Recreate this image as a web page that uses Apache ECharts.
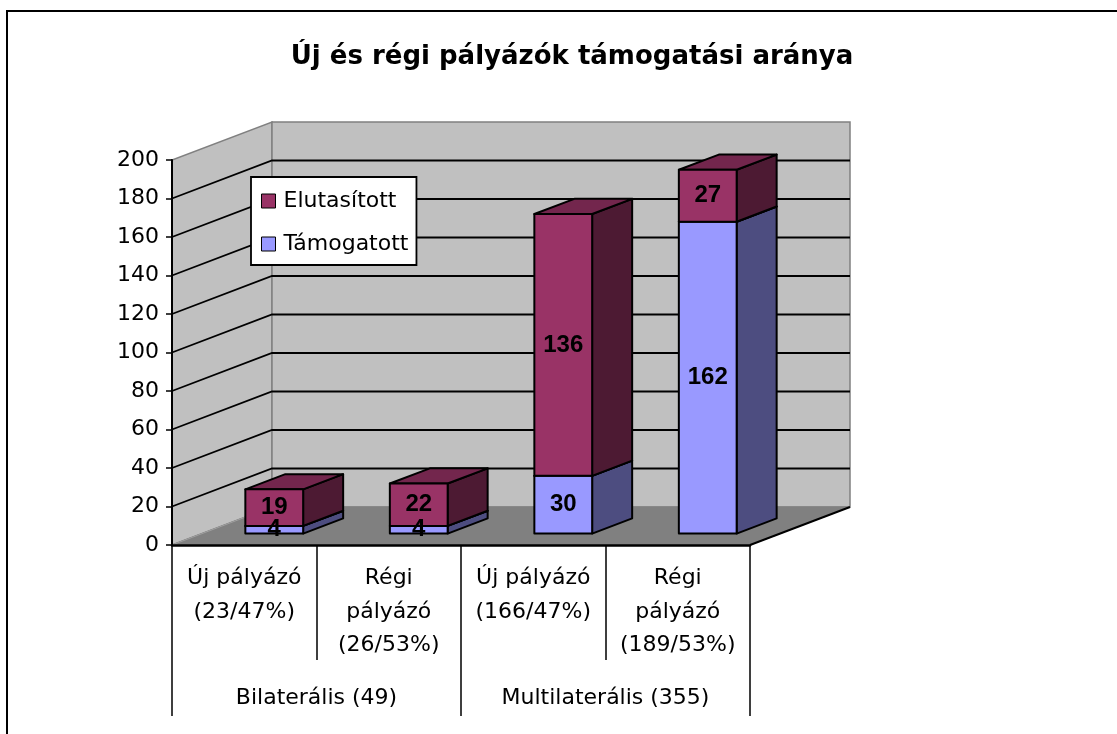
<!DOCTYPE html>
<html><head><meta charset="utf-8">
<script src="https://cdn.jsdelivr.net/npm/echarts@6/dist/echarts.min.js"></script>
<style>html,body{margin:0;padding:0;background:#fff}#c{width:1117px;height:734px}</style>
</head><body><div id="c"></div>
<script>
// ---- data ----
const categories = ['Új pályázó\n(23/47%)', 'Régi\npályázó\n(26/53%)', 'Új pályázó\n(166/47%)', 'Régi\npályázó\n(189/53%)'];
const groups = ['Bilaterális (49)', 'Multilaterális (355)'];
const supported = [4, 4, 30, 162];     // Támogatott
const rejected = [19, 22, 136, 27];    // Elutasított
const yTicks = [0, 20, 40, 60, 80, 100, 120, 140, 160, 180, 200];
const titleText = 'Új és régi pályázók támogatási aránya';

// ---- 3D look ----
const DX = 100, DY = -38;          // depth of the plot box
const ZF = 0.3, ZB = 0.7;          // bar front/back depth fraction
const HALF = 0.2;                  // bar half width (fraction of band)
const REG = 'DejaVu Sans';
const zeros = categories.map(() => 0);

function barRender(front, side, top, baseArr) {
  return function (params, api) {
    const i = api.value(0), v = api.value(1);
    const base = baseArr[i];
    const p0 = api.coord([i, base]);
    const p1 = api.coord([i, base + v]);
    const hw = api.size([1, 0])[0] * HALF;
    const cx = p0[0] + DX * ZF;
    const x0 = cx - hw, x1 = cx + hw;
    const yb = p0[1] + DY * ZF, yt = p1[1] + DY * ZF;
    const ddx = DX * (ZB - ZF), ddy = DY * (ZB - ZF);
    const st = { stroke: '#000', lineWidth: 2, lineJoin: 'round' };
    return {
      type: 'group',
      children: [
        { type: 'polygon', shape: { points: [[x1, yb], [x1 + ddx, yb + ddy], [x1 + ddx, yt + ddy], [x1, yt]] }, style: Object.assign({ fill: side }, st) },
        { type: 'polygon', shape: { points: [[x0, yt], [x1, yt], [x1 + ddx, yt + ddy], [x0 + ddx, yt + ddy]] }, style: Object.assign({ fill: top }, st) },
        { type: 'rect', shape: { x: x0, y: yt, width: x1 - x0, height: yb - yt }, style: Object.assign({ fill: front }, st) },
        { type: 'text', z2: 100, style: { text: String(v), x: cx, y: (yb + yt) / 2, align: 'center', verticalAlign: 'middle', font: 'bold 24px "Liberation Sans", Arial', fill: '#000' } }
      ]
    };
  };
}

function wallRender(params, api) {
  const cs = params.coordSys;
  const L = cs.x, R = cs.x + cs.width;
  const y0 = api.coord([0, yTicks[0]])[1];
  const yTop = api.coord([0, yTicks[yTicks.length - 1]])[1];
  const ch = [];
  ch.push({ type: 'polygon', shape: { points: [[L, y0], [L, yTop], [L + DX, yTop + DY], [L + DX, y0 + DY]] }, style: { fill: '#c0c0c0', stroke: '#808080', lineWidth: 1.5 } });
  ch.push({ type: 'polygon', shape: { points: [[L + DX, yTop + DY], [R + DX, yTop + DY], [R + DX, y0 + DY], [L + DX, y0 + DY]] }, style: { fill: '#c0c0c0', stroke: '#808080', lineWidth: 1.5 } });
  yTicks.slice(1, -1).forEach(t => {
    const y = api.coord([0, t])[1];
    ch.push({ type: 'polyline', shape: { points: [[L, y], [L + DX, y + DY], [R + DX, y + DY]] }, style: { stroke: '#000', lineWidth: 1.8, fill: null } });
  });
  ch.push({ type: 'polygon', shape: { points: [[L, y0], [R, y0], [R + DX, y0 + DY], [L + DX, y0 + DY]] }, style: { fill: '#808080', stroke: '#808080', lineWidth: 1 } });
  ch.push({ type: 'line', shape: { x1: L, y1: y0, x2: L + DX, y2: y0 + DY }, style: { stroke: '#a0a0a0', lineWidth: 1 } });
  ch.push({ type: 'line', shape: { x1: R, y1: y0, x2: R + DX, y2: y0 + DY }, style: { stroke: '#000', lineWidth: 2 } });
  return { type: 'group', children: ch };
}

const chart = echarts.init(document.getElementById('c'), null, { renderer: 'canvas' });
chart.setOption({
  animation: false,
  backgroundColor: '#fff',
  title: {
    text: titleText, left: 567, top: 39, textAlign: 'center',
    textStyle: { fontFamily: REG, fontWeight: 'bold', fontSize: 26, color: '#000' }
  },
  legend: {
    data: ['Elutasított', 'Támogatott'], orient: 'vertical', left: 251, top: 177,
    padding: [13, 8, 10, 10], itemWidth: 14, itemHeight: 14, itemGap: 21,
    backgroundColor: '#fff', borderColor: '#000', borderWidth: 1.8,
    icon: 'rect', itemStyle: { borderColor: '#000', borderWidth: 1 },
    textStyle: { fontFamily: REG, fontSize: 22, color: '#000', lineHeight: 20, padding: [0, 0, 0, 3] }
  },
  grid: { left: 172, top: 160, width: 578, height: 385 },
  xAxis: [
    {
      type: 'category', data: categories, position: 'bottom', z: 10,
      axisLine: { lineStyle: { color: '#000', width: 2.5 } },
      axisTick: { show: true, length: 115, lineStyle: { color: '#000', width: 1.5 } },
      axisLabel: { interval: 0, margin: 17, fontFamily: REG, fontSize: 22, lineHeight: 33.5, color: '#000' }
    },
    {
      type: 'category', data: groups, position: 'bottom', z: 10,
      axisLine: { show: false },
      axisTick: { show: true, length: 171, lineStyle: { color: '#000', width: 1.5 } },
      axisLabel: { interval: 0, margin: 142, fontFamily: REG, fontSize: 22, color: '#000' }
    }
  ],
  yAxis: {
    type: 'value', min: yTicks[0], max: yTicks[yTicks.length - 1], interval: yTicks[1] - yTicks[0], z: 10,
    axisLine: { show: true, lineStyle: { color: '#000', width: 2 } },
    axisTick: { show: true, length: 6, lineStyle: { color: '#000', width: 1.5 } },
    axisLabel: { margin: 13, fontFamily: REG, fontSize: 22, color: '#000' },
    splitLine: { show: false }
  },
  graphic: [{
    type: 'polyline', shape: { points: [[7, 734], [7, 11], [1117, 11]] },
    style: { stroke: '#000', lineWidth: 2, fill: null }
  }],
  series: [
    { type: 'custom', name: 'walls', z: 1, clip: false, silent: true, renderItem: wallRender, data: [[0, 0]] },
    {
      type: 'custom', name: 'Támogatott', z: 2, clip: false, itemStyle: { color: '#9999ff' },
      renderItem: barRender('#9999ff', '#4d4d80', '#7373bf', zeros),
      data: supported.map((v, i) => [i, v])
    },
    {
      type: 'custom', name: 'Elutasított', z: 2, clip: false, itemStyle: { color: '#993366' },
      renderItem: barRender('#993366', '#4d1a33', '#73264d', supported),
      data: rejected.map((v, i) => [i, v])
    }
  ]
});
</script>
</body></html>
